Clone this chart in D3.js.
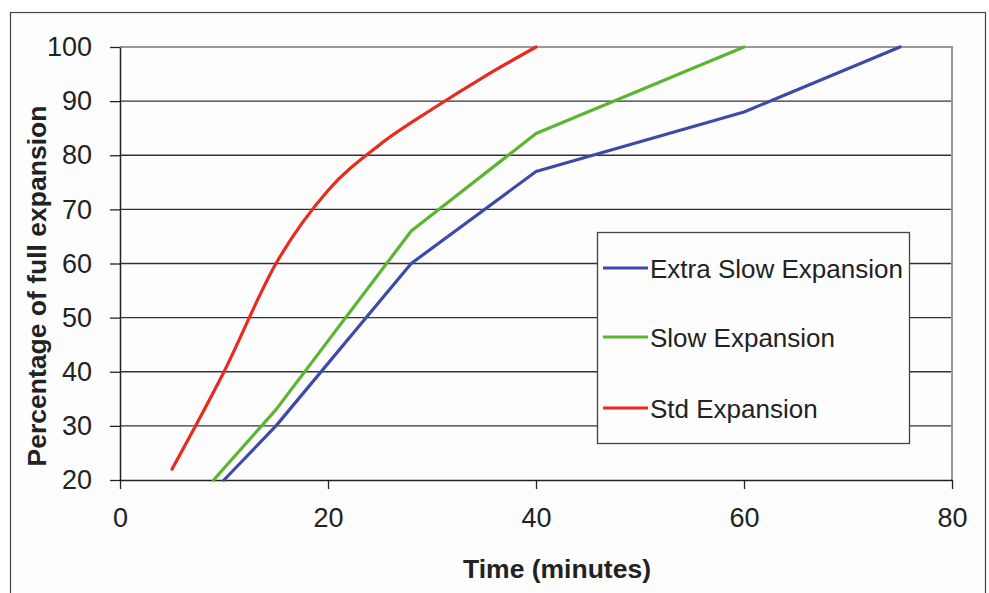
<!DOCTYPE html>
<html>
<head>
<meta charset="utf-8">
<script src="https://cdn.jsdelivr.net/npm/d3@7"></script>
<style>
  body { margin: 0; background: #fff; }
  svg { display: block; font-family: "Liberation Sans", Arial, sans-serif; }
</style>
</head>
<body>
<div id="chart"></div>
<script>
// series data (time in minutes, % of full expansion)
var extraSlowT = [10, 15, 28, 40, 60, 75];
var extraSlowV = [20, 30, 60, 77, 88, 100];
var slowT = [9, 15, 28, 40, 60];
var slowV = [20, 33, 66, 84, 100];
var stdT = [5, 10, 15, 20, 25, 30, 35, 40];
var stdV = [22, 40, 60, 73.5, 82, 88.5, 94.5, 100];

var seriesNames = ["Extra Slow Expansion", "Slow Expansion", "Std Expansion"];
var seriesColors = ["#3d4aa8", "#5bb530", "#ea2a1e"];

var xTicks = [0, 20, 40, 60, 80];
var yTicks = [20, 30, 40, 50, 60, 70, 80, 90, 100];

var W = 989, H = 593;
var m = {left: 120, top: 47, right: 952, bottom: 480};

var svg = d3.select("#chart").append("svg")
  .attr("width", W).attr("height", H);

// outer frame
svg.append("rect")
  .attr("x", 10.5).attr("y", 12.5)
  .attr("width", 975).attr("height", 600)
  .attr("fill", "#fdfdfd").attr("stroke", "#444").attr("stroke-width", 1.2);

var x = d3.scaleLinear().domain([0, 80]).range([m.left, m.right]);
var y = d3.scaleLinear().domain([20, 100]).range([m.bottom, m.top]);

// grid lines
svg.selectAll(".grid")
  .data(yTicks.filter(function(d){ return d > 20 && d < 100; }))
  .enter().append("line")
  .attr("x1", m.left).attr("x2", m.right)
  .attr("y1", function(d){ return y(d); })
  .attr("y2", function(d){ return y(d); })
  .attr("stroke", "#333").attr("stroke-width", 1.3);

// top and right border (gray)
svg.append("path")
  .attr("d", "M" + m.left + "," + m.top + "H" + m.right + "V" + m.bottom)
  .attr("fill", "none").attr("stroke", "#999").attr("stroke-width", 2);

// axes
var yAxis = svg.append("g")
  .attr("transform", "translate(" + m.left + ",0)")
  .call(d3.axisLeft(y).tickValues(yTicks).tickSize(10).tickPadding(18).tickSizeOuter(0));
var xAxis = svg.append("g")
  .attr("transform", "translate(0," + m.bottom + ")")
  .call(d3.axisBottom(x).tickValues(xTicks).tickSize(9).tickPadding(19).tickSizeOuter(0));

[xAxis, yAxis].forEach(function(a){
  a.select(".domain").attr("stroke", "#222").attr("stroke-width", 1.5);
  a.selectAll(".tick line").attr("stroke", "#222").attr("stroke-width", 1.3);
  a.selectAll(".tick text").attr("fill", "#222")
    .style("font-size", "27px").style("font-family", "Liberation Sans, Arial, sans-serif");
});

// lines
var series = [
  {t: extraSlowT, v: extraSlowV, curve: d3.curveLinear},
  {t: slowT, v: slowV, curve: d3.curveLinear},
  {t: stdT, v: stdV, curve: d3.curveMonotoneX}
];

series.forEach(function(s, i){
  var pts = s.t.map(function(t, j){ return [t, s.v[j]]; });
  var line = d3.line()
    .x(function(d){ return x(d[0]); })
    .y(function(d){ return y(d[1]); })
    .curve(s.curve);
  svg.append("path")
    .datum(pts)
    .attr("d", line)
    .attr("fill", "none")
    .attr("stroke", seriesColors[i])
    .attr("stroke-width", 3.2)
    .attr("stroke-linejoin", "round")
    .attr("stroke-linecap", "round");
});

// legend
var lg = svg.append("g");
lg.append("rect")
  .attr("x", 597.5).attr("y", 232.5).attr("width", 312).attr("height", 211)
  .attr("fill", "#fdfdfd").attr("stroke", "#444").attr("stroke-width", 1.3);
var rowY = [268, 337, 408];
seriesNames.forEach(function(n, i){
  lg.append("line")
    .attr("x1", 603).attr("x2", 648)
    .attr("y1", rowY[i]).attr("y2", rowY[i])
    .attr("stroke", seriesColors[i]).attr("stroke-width", 3.2);
  lg.append("text")
    .attr("x", 650).attr("y", rowY[i] + 10)
    .attr("fill", "#222")
    .style("font-size", "26px")
    .text(n);
});

// axis titles
svg.append("text")
  .attr("x", 557).attr("y", 578)
  .attr("text-anchor", "middle")
  .attr("fill", "#222")
  .style("font-size", "26.5px").style("font-weight", "bold")
  .text("Time (minutes)");

svg.append("text")
  .attr("transform", "translate(46,286) rotate(-90)")
  .attr("text-anchor", "middle")
  .attr("fill", "#222")
  .style("font-size", "26.5px").style("font-weight", "bold")
  .text("Percentage of full expansion");
</script>
</body>
</html>
